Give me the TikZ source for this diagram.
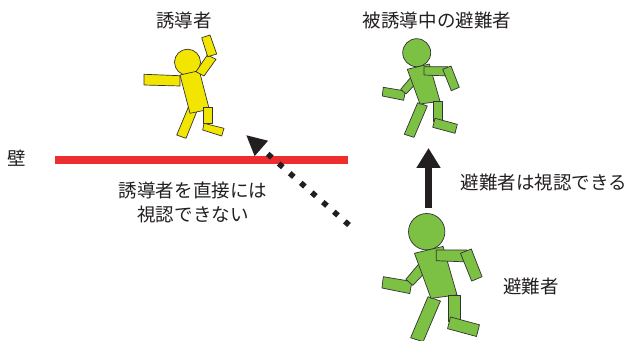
\documentclass[tikz,border=0pt]{standalone}
\usepackage{fontspec}
\setmainfont{Noto Sans CJK JP}
\usetikzlibrary{arrows.meta}
\definecolor{wallred}{HTML}{EE2D2E}
\definecolor{guideyellow}{HTML}{F2E600}
\definecolor{evacgreen}{HTML}{7CC143}
\definecolor{inkgray}{HTML}{231F20}

\begin{document}
\begin{tikzpicture}[x=0.03cm,y=-0.03cm]
		\tikzset{jptext/.style = {text=inkgray,inner sep=0pt,font=\fontsize{15.8pt}{21pt}\selectfont}}
		\tikzset{limb/.style = {draw=black!80,line width=0.6pt,line join=round}}
		\tikzset{wall/.style = {draw=wallred,line width=7.2pt}}
		% running evacuee, head centre at the origin
		\tikzset{pics/walker/.style = {code={
			\draw[limb,fill=#1] (0,0) circle (14);
			\draw[limb,fill=#1] (-33.4,34.6) -- (-11.4,38.3) -- (-13,47.6) -- (-34.4,43.3) -- cycle;
			\draw[limb,fill=#1] (-4,22.3) -- (2.6,27.3) -- (-10.7,41.3) -- (-16,36.6) -- cycle;
			\draw[limb,fill=#1] (1,50) -- (10.6,53.3) -- (-2.7,84.6) -- (-12.4,81.6) -- cycle;
			\draw[limb,fill=#1] (-9.4,16.6) -- (12.6,11.3) -- (23.3,48.6) -- (3.3,51.3) -- cycle;
			\draw[limb,fill=#1] (16.6,49) -- (26,49) -- (26,69) -- (16.6,69) -- cycle;
			\draw[limb,fill=#1] (18.3,65.6) -- (40.6,71.6) -- (38.3,80.6) -- (16,74.6) -- cycle;
			\draw[limb,fill=#1] (7.3,14) -- (31,14) -- (31.6,23.3) -- (7.3,22.3) -- cycle;
			\draw[limb,fill=#1] (26,16.6) -- (34.3,13.3) -- (42.6,34.6) -- (34.6,38) -- cycle;
		}}}
		% guide waving one arm
		\tikzset{pics/guide/.style = {code={
			\draw[limb,fill=#1] (0,0) circle (13);
			\draw[limb,fill=#1] (-43.5,12.1) -- (-7.5,13.5) -- (-7.5,23.8) -- (-43.5,22.8) -- cycle;
			\draw[limb,fill=#1] (0.8,45.1) -- (9.2,49.5) -- (-1.5,76.1) -- (-10.8,72.8) -- cycle;
			\draw[limb,fill=#1] (-7.5,12.8) -- (11.8,8.5) -- (21.8,47.1) -- (2.5,51.1) -- cycle;
			\draw[limb,fill=#1] (15.8,45.1) -- (24.8,45.1) -- (24.8,61.1) -- (15.8,61.1) -- cycle;
			\draw[limb,fill=#1] (16.5,61.1) -- (36.5,66.1) -- (34.2,73.8) -- (15.2,67.8) -- cycle;
			\draw[limb,fill=#1] (8.5,9.5) -- (16.5,13.8) -- (28.5,-2.9) -- (19.8,-7.2) -- cycle;
			\draw[limb,fill=#1] (14.2,-24.5) -- (22.5,-27.2) -- (29.2,-8.2) -- (20.2,-5.5) -- cycle;
		}}}
		\useasboundingbox (0,0) rectangle (626,340);

		% wall
		\coordinate (wallL) at (55,160);
		\coordinate (wallR) at (348,160);
		\draw[wall] (wallL) -- (wallR);
		\node[jptext] (wallname) at (17,158) {壁};

		% people
		\pic at (187.5,62.2) {guide=guideyellow};
		\pic at (416.7,52.7) {walker=evacgreen};
		\pic[scale=1.3] at (426.7,231.7) {walker=evacgreen};

		\node[jptext] (guidename) at (184,20) {誘導者};
		\node[jptext] (ledname) at (437,20) {被誘導中の避難者};
		\node[jptext] (evacname) at (531,286) {避難者};
		\node[jptext,align=center] (blocked) at (193,202.5) {誘導者を直接には\\視認できない};
		\node[jptext] (visible) at (544,182) {避難者は視認できる};

		% lines of sight
		\coordinate (seeFrom) at (428.5,208);
		\coordinate (seeTo) at (428.5,148);
		\path[-{Triangle[length=17pt,width=19.5pt]},draw=inkgray,line width=6pt] (seeFrom) -- (seeTo);
		\coordinate (blockFrom) at (349,225);
		\coordinate (blockTo) at (246,135);
		\path[-{Triangle[length=17.4pt,width=16pt]},draw=inkgray,line width=4.7pt,dash pattern=on 4.7pt off 7.8pt] (blockFrom) -- (blockTo);
	\end{tikzpicture}
\end{document}
